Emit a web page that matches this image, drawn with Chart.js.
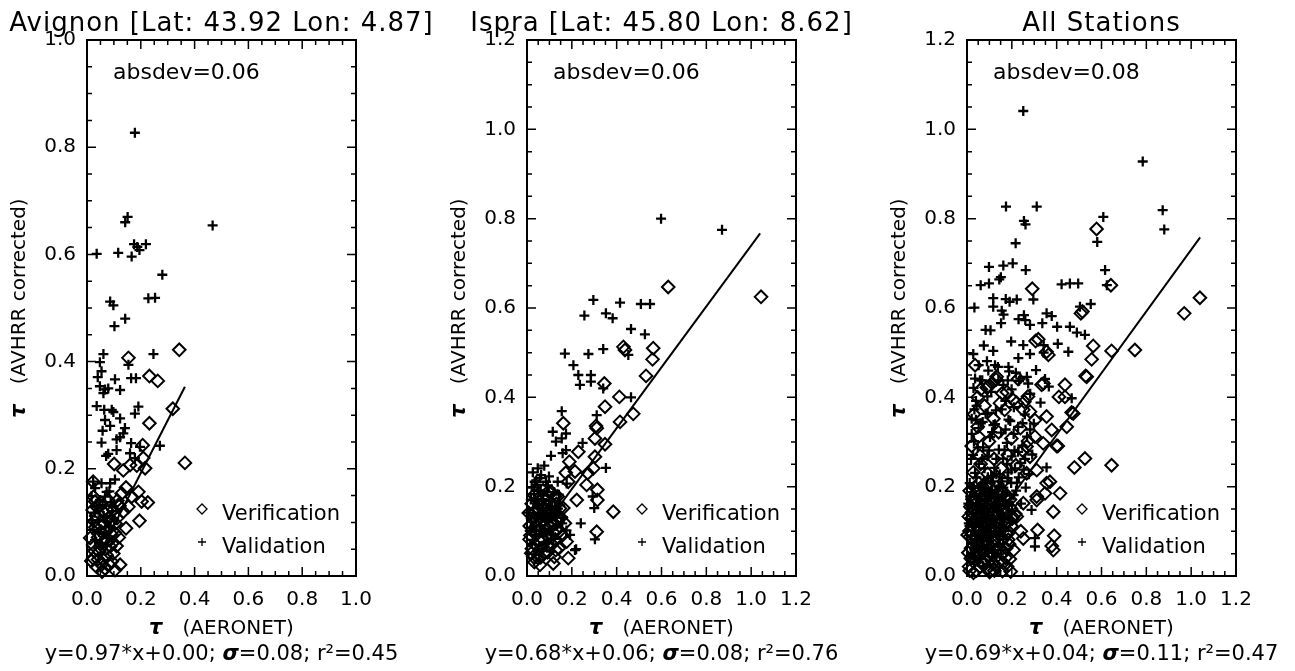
<!DOCTYPE html>
<html lang="en">
<head>
<meta charset="UTF-8">
<title>AVHRR corrected vs AERONET</title>
<script src="https://cdn.jsdelivr.net/npm/chart.js"></script>
<style>
  body { margin: 0; background: #ffffff; }
  #wrap { position: relative; width: 1295px; height: 671px; }
  #wrap canvas { position: absolute; top: 0; }
</style>
</head>
<body>
<div id="wrap">
  <canvas id="avignon" width="440" height="671" style="left:0px"></canvas>
  <canvas id="ispra" width="440" height="671" style="left:440px"></canvas>
  <canvas id="all" width="415" height="671" style="left:880px"></canvas>
</div>
<script>
// [AERONET tau, AVHRR corrected tau]
const avignonValidation = [
  [0.178,0.827],[0.467,0.654],[0.151,0.670],[0.142,0.660],[0.036,0.601],[0.116,0.603],
  [0.166,0.596],[0.175,0.619],[0.195,0.608],[0.219,0.619],[0.187,0.614],[0.280,0.562],
  [0.086,0.512],[0.098,0.505],[0.228,0.518],[0.253,0.519],[0.142,0.480],[0.102,0.466],
  [0.061,0.414],[0.048,0.399],[0.054,0.382],[0.040,0.371],[0.154,0.394],[0.247,0.414],
  [0.104,0.367],[0.164,0.369],[0.182,0.369],[0.048,0.354],[0.067,0.348],[0.079,0.350],
  [0.123,0.347],[0.061,0.341],[0.036,0.317],[0.064,0.310],[0.092,0.310],[0.098,0.306],
  [0.191,0.316],[0.178,0.303],[0.067,0.291],[0.123,0.294],[0.086,0.280],[0.058,0.271],
  [0.141,0.276],[0.135,0.266],[0.123,0.259],[0.110,0.255],[0.054,0.249],[0.164,0.248],
  [0.271,0.243],[0.197,0.241],[0.110,0.235],[0.079,0.228],[0.071,0.224],[0.160,0.229],
  [0.178,0.220],[0.104,0.180],[0.023,0.176],[0.054,0.173],[0.086,0.173],[0.030,0.164],
  [0.073,0.157],[0.017,0.149],[0.067,0.148],[0.048,0.142],[0.036,0.129],[0.021,0.086],
  [0.030,0.067],[0.062,0.112],[0.081,0.094],[0.051,0.061],[0.094,0.121],[0.043,0.104],
  [0.028,0.118],[0.045,0.082],[0.058,0.132],[0.072,0.102],[0.088,0.138],[0.101,0.106],
  [0.018,0.104],[0.066,0.078],[0.083,0.158]
];
const avignonVerification = [
  [0.343,0.422],[0.154,0.407],[0.232,0.373],[0.263,0.364],[0.319,0.312],[0.232,0.285],
  [0.207,0.244],[0.364,0.211],[0.101,0.209],[0.135,0.197],[0.160,0.207],[0.185,0.206],
  [0.216,0.201],[0.209,0.220],[0.023,0.176],[0.145,0.165],[0.191,0.157],[0.129,0.154],
  [0.166,0.148],[0.030,0.139],[0.203,0.139],[0.226,0.137],[0.054,0.136],[0.116,0.132],
  [0.154,0.129],[0.021,0.123],[0.098,0.123],[0.135,0.120],[0.067,0.117],[0.195,0.103],
  [0.083,0.108],[0.145,0.089],[0.048,0.095],[0.104,0.080],[0.023,0.058],[0.061,0.064],
  [0.086,0.055],[0.110,0.056],[0.046,0.045],[0.073,0.039],[0.023,0.033],[0.061,0.030],
  [0.092,0.027],[0.123,0.021],[0.036,0.017],[0.067,0.014],[0.104,0.011],[0.054,0.021],
  [0.041,0.072],[0.071,0.083],[0.089,0.101],[0.112,0.108],[0.058,0.121],[0.121,0.131],
  [0.031,0.091],[0.079,0.142],[0.049,0.052],[0.098,0.042],[0.029,0.046],[0.076,0.066],
  [0.012,0.071],[0.027,0.102],[0.038,0.128],[0.052,0.083],[0.064,0.098],[0.078,0.121],
  [0.091,0.078],[0.106,0.098],[0.118,0.072],[0.016,0.028],[0.041,0.031],[0.056,0.008],
  [0.083,0.021],[0.096,0.062],[0.034,0.112],[0.069,0.051],[0.113,0.141],[0.024,0.148]
];
const avignonFit = [[0.04,0.035],[0.364,0.353]];

const ispraValidation = [
  [0.598,0.800],[0.870,0.775],[0.296,0.618],[0.415,0.612],[0.508,0.609],[0.549,0.609],
  [0.256,0.583],[0.352,0.588],[0.382,0.577],[0.464,0.553],[0.526,0.541],[0.169,0.498],
  [0.274,0.497],[0.340,0.508],[0.452,0.495],[0.207,0.472],[0.229,0.450],[0.285,0.450],
  [0.236,0.428],[0.285,0.435],[0.340,0.420],[0.464,0.400],[0.155,0.369],[0.311,0.360],
  [0.115,0.323],[0.174,0.319],[0.129,0.301],[0.155,0.308],[0.248,0.298],[0.107,0.269],
  [0.159,0.275],[0.174,0.282],[0.077,0.247],[0.352,0.242],[0.058,0.219],[0.085,0.211],
  [0.137,0.211],[0.177,0.207],[0.046,0.204],[0.036,0.170],[0.293,0.178],[0.300,0.152],
  [0.240,0.118],[0.303,0.082],[0.219,0.060],[0.192,0.092],[0.214,0.058],
  [0.021,0.198],[0.032,0.183],[0.053,0.161],[0.071,0.152],[0.102,0.168],[0.121,0.188],
  [0.042,0.133],[0.083,0.122],[0.112,0.141],[0.018,0.122],[0.062,0.103],[0.091,0.094],
  [0.031,0.081],[0.052,0.062],[0.131,0.112],[0.148,0.158],[0.012,0.101],[0.041,0.214],
  [0.063,0.226],[0.098,0.223],[0.138,0.151],[0.161,0.131],[0.028,0.152],[0.072,0.181],
  [0.022,0.072],[0.081,0.071],[0.118,0.083],[0.176,0.102],[0.051,0.191],[0.093,0.203],
  [0.009,0.142],[0.024,0.108],[0.034,0.211],[0.045,0.162],[0.058,0.138],[0.067,0.172],
  [0.078,0.098],[0.088,0.188],[0.101,0.128],[0.113,0.168],[0.126,0.152],[0.142,0.182],
  [0.157,0.118],[0.017,0.171],[0.039,0.092],[0.061,0.191],[0.084,0.148],[0.107,0.082],
  [0.131,0.131],[0.026,0.232],[0.048,0.241],[0.072,0.132]
];
const ispraVerification = [
  [1.044,0.625],[0.630,0.647],[0.563,0.510],[0.560,0.485],[0.430,0.513],[0.437,0.506],
  [0.531,0.448],[0.412,0.401],[0.474,0.363],[0.415,0.345],[0.348,0.379],[0.345,0.431],
  [0.308,0.336],[0.311,0.331],[0.162,0.342],[0.303,0.308],[0.348,0.295],[0.229,0.278],
  [0.303,0.267],[0.189,0.256],[0.296,0.241],[0.173,0.231],[0.214,0.234],[0.271,0.230],
  [0.184,0.211],[0.266,0.204],[0.314,0.193],[0.222,0.170],[0.314,0.170],[0.385,0.144],
  [0.125,0.178],[0.095,0.189],[0.162,0.152],[0.140,0.129],[0.169,0.118],[0.311,0.099],
  [0.177,0.077],[0.184,0.040],[0.117,0.028],[0.058,0.025],[0.028,0.043],[0.137,0.178],
  [0.022,0.061],[0.041,0.092],[0.062,0.121],[0.081,0.148],[0.102,0.112],[0.121,0.139],
  [0.032,0.141],[0.052,0.168],[0.071,0.082],[0.092,0.053],[0.112,0.071],[0.132,0.102],
  [0.012,0.112],[0.033,0.031],[0.061,0.042],[0.151,0.131],[0.101,0.161],[0.072,0.192],
  [0.142,0.062],[0.043,0.113],[0.021,0.162],[0.088,0.131],[0.122,0.043],[0.158,0.091],
  [0.051,0.081],[0.082,0.102],[0.111,0.122],[0.131,0.161],[0.063,0.062],[0.011,0.082],
  [0.015,0.091],[0.027,0.128],[0.036,0.071],[0.047,0.152],[0.056,0.102],[0.067,0.138],
  [0.076,0.051],[0.086,0.172],[0.097,0.088],[0.106,0.142],[0.117,0.098],[0.128,0.058],
  [0.136,0.121],[0.147,0.151],[0.008,0.141],[0.031,0.181],[0.048,0.041],[0.068,0.158],
  [0.089,0.068],[0.109,0.188],[0.126,0.082],[0.019,0.051],[0.038,0.122],[0.057,0.131],
  [0.078,0.112],[0.098,0.141],[0.115,0.158],[0.141,0.098]
];
const ispraFit = [[0.01,0.065],[1.04,0.767]];

const allValidation = [
  [0.251,1.041],[0.784,0.928],[0.174,0.827],[0.311,0.827],[0.254,0.795],[0.261,0.787],
  [0.608,0.804],[0.873,0.819],[0.880,0.776],[0.581,0.748],[0.217,0.745],[0.098,0.692],
  [0.162,0.695],[0.204,0.700],[0.262,0.685],[0.616,0.685],[0.061,0.651],[0.098,0.655],
  [0.144,0.664],[0.151,0.669],[0.422,0.653],[0.459,0.655],[0.496,0.655],[0.624,0.651],
  [0.033,0.601],[0.117,0.622],[0.173,0.620],[0.222,0.619],[0.117,0.603],[0.155,0.594],
  [0.296,0.619],[0.254,0.584],[0.504,0.603],[0.552,0.609],[0.355,0.588],[0.378,0.582],
  [0.152,0.566],[0.281,0.562],[0.459,0.558],[0.190,0.614],[0.163,0.585],[0.083,0.551],
  [0.105,0.550],[0.230,0.575],[0.260,0.573],[0.402,0.558],[0.336,0.566],
  [0.526,0.540],[0.490,0.545],[0.028,0.497],[0.075,0.516],[0.117,0.504],[0.197,0.525],
  [0.251,0.517],[0.281,0.497],[0.342,0.517],[0.342,0.500],[0.405,0.520],[0.452,0.502],
  [0.125,0.472],[0.185,0.468],[0.095,0.460],[0.218,0.455],[0.232,0.437],[0.267,0.446],
  [0.273,0.431],[0.036,0.442],[0.058,0.438],[0.140,0.438],[0.182,0.438],[0.365,0.424],
  [0.467,0.398],[0.355,0.243],[0.040,0.392],[0.033,0.373],[0.092,0.365],[0.070,0.345],
  [0.040,0.350],[0.125,0.340],[0.155,0.373],[0.185,0.350],[0.288,0.148],[0.303,0.066],
  [0.303,0.085],
  [0.021,0.352],[0.052,0.331],[0.083,0.363],[0.118,0.338],[0.152,0.321],[0.193,0.347],
  [0.228,0.334],[0.268,0.312],[0.031,0.302],[0.072,0.288],[0.103,0.311],[0.142,0.283],
  [0.178,0.298],[0.212,0.281],[0.247,0.292],[0.291,0.272],[0.018,0.262],[0.053,0.251],
  [0.091,0.268],[0.122,0.242],[0.161,0.263],[0.198,0.238],[0.238,0.253],[0.276,0.228],
  [0.042,0.221],[0.073,0.208],[0.108,0.224],[0.148,0.202],[0.181,0.219],[0.223,0.209],
  [0.262,0.198],[0.022,0.188],[0.061,0.178],[0.088,0.171],[0.131,0.192],[0.171,0.168],
  [0.208,0.181],[0.241,0.162],[0.011,0.152],[0.041,0.138],[0.079,0.151],[0.112,0.131],
  [0.151,0.142],[0.188,0.128],[0.031,0.112],[0.062,0.098],[0.098,0.108],[0.132,0.092],
  [0.168,0.101],[0.019,0.072],[0.051,0.061],[0.088,0.069],[0.121,0.052],[0.152,0.058],
  [0.032,0.031],[0.071,0.022],[0.101,0.034],[0.128,0.013],[0.043,0.381],[0.091,0.402],
  [0.129,0.371],[0.171,0.392],[0.209,0.378],[0.258,0.362],[0.298,0.341],[0.029,0.421],
  [0.068,0.438],[0.108,0.412],[0.162,0.428],[0.199,0.418],[0.238,0.442],[0.282,0.408],
  [0.328,0.388],[0.052,0.472],[0.089,0.481],[0.138,0.468],[0.188,0.458],[0.229,0.488],
  [0.308,0.461],[0.348,0.441],
  [0.012,0.208],[0.024,0.162],[0.036,0.231],[0.048,0.121],[0.057,0.198],[0.066,0.142],
  [0.078,0.241],[0.087,0.092],[0.094,0.188],[0.103,0.152],[0.116,0.212],[0.127,0.118],
  [0.139,0.168],[0.146,0.228],[0.158,0.181],[0.167,0.131],[0.179,0.251],[0.186,0.162],
  [0.197,0.208],[0.214,0.241],[0.008,0.118],[0.018,0.091],[0.029,0.141],[0.042,0.082],
  [0.053,0.172],[0.061,0.118],[0.073,0.131],[0.082,0.208],[0.097,0.132],[0.109,0.178],
  [0.119,0.098],[0.131,0.228],[0.143,0.108],[0.156,0.212],[0.172,0.188],[0.184,0.232],
  [0.201,0.158],[0.219,0.191],[0.231,0.221],[0.253,0.238],[0.016,0.042],[0.038,0.058],
  [0.059,0.038],[0.078,0.048],[0.096,0.061],[0.112,0.042],[0.138,0.072],[0.161,0.082],
  [0.027,0.271],[0.048,0.288],[0.068,0.262],[0.098,0.281],[0.131,0.262],[0.168,0.282],
  [0.199,0.268],[0.228,0.278],[0.259,0.262],[0.021,0.318],[0.062,0.342],[0.112,0.322],
  [0.172,0.328],[0.208,0.318],[0.248,0.342],[0.282,0.328],
  [0.014,0.178],[0.027,0.198],[0.033,0.102],[0.046,0.152],[0.052,0.088],[0.064,0.182],
  [0.071,0.111],[0.079,0.168],[0.086,0.128],[0.093,0.221],[0.104,0.118],[0.111,0.192],
  [0.122,0.162],[0.134,0.142],[0.141,0.198],[0.153,0.128],[0.006,0.162],[0.022,0.128],
  [0.039,0.178],[0.058,0.158],[0.068,0.078],[0.083,0.188],[0.091,0.152],[0.099,0.078],
  [0.114,0.152],[0.124,0.181],[0.148,0.158],[0.162,0.198],[0.031,0.062],[0.048,0.032]
];
const allVerification = [
  [0.578,0.777],[0.291,0.643],[0.642,0.651],[0.508,0.588],[0.515,0.592],[0.969,0.588],
  [1.039,0.623],[0.318,0.530],[0.749,0.506],[0.645,0.504],[0.563,0.515],[0.556,0.485],
  [0.529,0.448],[0.437,0.428],[0.410,0.401],[0.467,0.366],[0.405,0.291],[0.479,0.243],
  [0.526,0.263],[0.645,0.248],[0.370,0.211],[0.415,0.185],[0.385,0.144],[0.315,0.103],
  [0.389,0.090],[0.378,0.067],[0.385,0.058],[0.306,0.526],[0.363,0.495],[0.036,0.472],
  [0.132,0.446],[0.095,0.424],[0.157,0.409],[0.256,0.390],[0.341,0.431],[0.048,0.334],
  [0.303,0.312],[0.340,0.297],[0.058,0.269],[0.281,0.267],[0.311,0.237],[0.348,0.185],
  [0.311,0.170],[0.216,0.139],[0.251,0.084],[0.088,0.422],[0.130,0.440],[0.147,0.387],
  [0.206,0.394],[0.251,0.372],[0.303,0.349],[0.355,0.357],[0.378,0.327],[0.400,0.291],
  [0.445,0.334],[0.333,0.428],[0.437,0.401],[0.355,0.502],[0.534,0.446],[0.474,0.364],
  [0.047,0.400],[0.266,0.290],[0.266,0.230],[0.311,0.178],[0.355,0.208],[0.251,0.163],
  [0.222,0.133],[0.240,0.100],[0.184,0.081],[0.162,0.030],[0.195,0.010],[0.205,0.132],
  [0.012,0.191],[0.041,0.172],[0.068,0.201],[0.102,0.182],[0.131,0.212],[0.161,0.188],
  [0.192,0.171],[0.022,0.142],[0.051,0.131],[0.082,0.152],[0.111,0.138],[0.142,0.121],
  [0.172,0.143],[0.201,0.128],[0.011,0.101],[0.038,0.088],[0.072,0.112],[0.098,0.091],
  [0.128,0.102],[0.161,0.082],[0.188,0.098],[0.018,0.062],[0.052,0.048],[0.081,0.071],
  [0.112,0.052],[0.141,0.061],[0.172,0.041],[0.208,0.058],[0.009,0.021],[0.042,0.012],
  [0.068,0.031],[0.101,0.009],[0.132,0.022],[0.158,0.011],[0.028,0.232],[0.061,0.251],
  [0.092,0.229],[0.121,0.262],[0.152,0.241],[0.182,0.271],[0.218,0.248],[0.248,0.281],
  [0.021,0.291],[0.052,0.312],[0.098,0.301],[0.141,0.322],[0.198,0.308],[0.238,0.331],
  [0.272,0.302],[0.031,0.362],[0.078,0.381],[0.118,0.352],[0.168,0.372],[0.221,0.388],
  [0.281,0.368],[0.062,0.418],[0.112,0.432],[0.178,0.412],[0.228,0.441],[0.272,0.402],
  [0.015,0.155],[0.028,0.118],[0.035,0.198],[0.047,0.071],[0.056,0.152],[0.063,0.094],
  [0.075,0.182],[0.084,0.038],[0.091,0.127],[0.096,0.208],[0.104,0.066],[0.117,0.163],
  [0.124,0.083],[0.137,0.141],[0.145,0.032],[0.153,0.103],[0.166,0.176],[0.174,0.062],
  [0.183,0.122],[0.196,0.151],[0.006,0.052],[0.019,0.128],[0.026,0.082],[0.033,0.047],
  [0.044,0.113],[0.058,0.021],[0.066,0.138],[0.078,0.092],[0.087,0.162],[0.094,0.071],
  [0.107,0.121],[0.114,0.028],[0.126,0.173],[0.134,0.058],[0.147,0.092],[0.156,0.148],
  [0.169,0.118],[0.179,0.021],[0.188,0.071],[0.008,0.133],[0.024,0.172],[0.039,0.141],
  [0.054,0.101],[0.069,0.061],[0.081,0.122],[0.093,0.018],[0.109,0.097],[0.121,0.142],
  [0.139,0.112],[0.149,0.168],[0.162,0.052],[0.176,0.097],[0.191,0.038],[0.013,0.088],
  [0.029,0.007],[0.049,0.188],[0.064,0.172],[0.086,0.201],[0.099,0.148],[0.118,0.191],
  [0.142,0.188],[0.164,0.212],
  [0.021,0.112],[0.037,0.162],[0.043,0.058],[0.061,0.118],[0.071,0.148],[0.077,0.028],
  [0.089,0.098],[0.103,0.132],[0.116,0.078],[0.129,0.121],[0.136,0.088],[0.151,0.118],
  [0.168,0.148],[0.003,0.092],[0.017,0.039],[0.031,0.171],[0.052,0.208],[0.073,0.052],
  [0.108,0.172],[0.122,0.012],[0.143,0.152],[0.182,0.178],[0.198,0.112],[0.012,0.012]
];
const allFit = [[0.01,0.047],[1.04,0.758]];

const panelTitles = ['Avignon [Lat: 43.92 Lon: 4.87]', 'Ispra [Lat: 45.80 Lon: 8.62]', 'All Stations'];
const absdevLabels = ['absdev=0.06', 'absdev=0.06', 'absdev=0.08'];
const fitLabels = ['y=0.97*x+0.00;', 'y=0.68*x+0.06;', 'y=0.69*x+0.04;'];
const sigmaLabels = ['=0.08;', '=0.08;', '=0.11;'];
const r2Labels = ['0.45', '0.76', '0.47'];
const axisMax = [1.0, 1.2, 1.2];
const majorStep = 0.2;
const minorStep = 0.05;

const FONT = 'DejaVu Sans';
Chart.defaults.font.family = FONT;
Chart.defaults.color = '#000';

function toXY(pairs) {
  return pairs.map(p => ({ x: p[0], y: p[1] }));
}

// box, inward ticks, titles and the small legend
const decorPlugin = {
  id: 'decor',
  afterDraw(chart, args, o) {
    const ctx = chart.ctx;
    const a = chart.chartArea;
    const xs = chart.scales.x, ys = chart.scales.y;
    const cx = (a.left + a.right) / 2;
    const cy = (a.top + a.bottom) / 2;
    ctx.save();
    ctx.strokeStyle = '#000';
    ctx.fillStyle = '#000';
    ctx.lineWidth = 2;
    ctx.strokeRect(a.left, a.top, a.right - a.left, a.bottom - a.top);

    ctx.lineWidth = 1.5;
    ctx.beginPath();
    const n = Math.round(o.max / minorStep);
    const per = Math.round(majorStep / minorStep);
    for (let i = 1; i < n; i++) {
      const v = i * minorStep;
      const len = i % per === 0 ? 9 : 5;
      const px = xs.getPixelForValue(v), py = ys.getPixelForValue(v);
      ctx.moveTo(px, a.bottom); ctx.lineTo(px, a.bottom - len);
      ctx.moveTo(px, a.top); ctx.lineTo(px, a.top + len);
      ctx.moveTo(a.left, py); ctx.lineTo(a.left + len, py);
      ctx.moveTo(a.right, py); ctx.lineTo(a.right - len, py);
    }
    ctx.stroke();

    // title
    ctx.textBaseline = 'alphabetic';
    ctx.textAlign = 'center';
    ctx.font = '26px ' + FONT;
    ctx.letterSpacing = '1px';
    ctx.fillText(o.title, cx, 31);
    ctx.letterSpacing = '0px';

    // absdev
    ctx.textAlign = 'left';
    ctx.font = '22px ' + FONT;
    ctx.fillText(o.absdev, a.left + 26, a.top + 39);

    // legend
    const lx = a.left + 115;
    ctx.lineWidth = 1.3;
    ctx.beginPath();
    const d = 5, dy = a.bottom - 67;
    ctx.moveTo(lx - d, dy); ctx.lineTo(lx, dy - d); ctx.lineTo(lx + d, dy); ctx.lineTo(lx, dy + d); ctx.closePath();
    ctx.stroke();
    ctx.beginPath();
    const py2 = a.bottom - 34;
    ctx.moveTo(lx - 4, py2); ctx.lineTo(lx + 4, py2);
    ctx.moveTo(lx, py2 - 4); ctx.lineTo(lx, py2 + 4);
    ctx.stroke();
    ctx.font = '21px ' + FONT;
    ctx.fillText('Verification', a.left + 135, a.bottom - 56);
    ctx.fillText('Validation', a.left + 135, a.bottom - 23);

    // x axis title
    const tauFont = 'italic bold 21px ' + FONT;
    const plainFont = '20px ' + FONT;
    ctx.font = tauFont;
    const wt = ctx.measureText('\u03c4').width;
    ctx.font = plainFont;
    const wa = ctx.measureText('(AERONET)').width;
    const gap = 20;
    let x0 = cx - (wt + gap + wa) / 2;
    ctx.font = tauFont;
    ctx.fillText('\u03c4', x0, a.bottom + 58);
    ctx.font = plainFont;
    ctx.fillText('(AERONET)', x0 + wt + gap, a.bottom + 58);

    // fit equation
    const eqFont = '21px ' + FONT;
    const sigFont = 'italic bold 21px ' + FONT;
    ctx.font = eqFont;
    const p1 = o.fit + ' ', p3 = o.sigma + ' r\u00b2=' + o.r2;
    const w1 = ctx.measureText(p1).width, w3 = ctx.measureText(p3).width;
    ctx.font = sigFont;
    const w2 = ctx.measureText('\u03c3').width;
    let ex = cx - (w1 + w2 + w3) / 2;
    const ey = a.bottom + 84;
    ctx.font = eqFont;
    ctx.fillText(p1, ex, ey);
    ctx.font = sigFont;
    ctx.fillText('\u03c3', ex + w1, ey);
    ctx.font = eqFont;
    ctx.fillText(p3, ex + w1 + w2, ey);

    // y axis title (rotated)
    ctx.translate(a.left - 62, cy);
    ctx.rotate(-Math.PI / 2);
    ctx.font = plainFont;
    const wv = ctx.measureText('(AVHRR corrected)').width;
    let y0 = -(wt + gap + wv) / 2;
    ctx.font = tauFont;
    ctx.fillText('\u03c4', y0, 0);
    ctx.font = plainFont;
    ctx.fillText('(AVHRR corrected)', y0 + wt + gap, 0);
    ctx.restore();
  }
};

function makePanel(id, idx, verification, validation, fit) {
  const max = axisMax[idx];
  return new Chart(document.getElementById(id), {
    type: 'scatter',
    data: {
      datasets: [
        {
          label: 'Verification',
          data: toXY(verification),
          pointStyle: 'rectRot',
          pointRadius: 6.3,
          borderWidth: 2,
          borderColor: '#000',
          backgroundColor: 'rgba(0,0,0,0)',
          clip: false
        },
        {
          label: 'Validation',
          data: toXY(validation),
          pointStyle: 'cross',
          pointRadius: 5,
          borderWidth: 2.3,
          borderColor: '#000',
          clip: false
        },
        {
          type: 'line',
          label: 'fit',
          data: toXY(fit),
          borderColor: '#000',
          borderWidth: 2,
          pointRadius: 0,
          fill: false
        }
      ]
    },
    options: {
      responsive: false,
      animation: false,
      devicePixelRatio: 1,
      events: [],
      layout: { padding: { top: 40, left: 0, bottom: 0, right: id === 'all' ? 59 : 84 } },
      plugins: {
        legend: { display: false },
        tooltip: { enabled: false },
        decor: {
          max: max,
          title: panelTitles[idx],
          absdev: absdevLabels[idx],
          fit: fitLabels[idx],
          sigma: sigmaLabels[idx],
          r2: r2Labels[idx]
        }
      },
      scales: {
        x: {
          type: 'linear',
          min: 0, max: max,
          grid: { display: false, drawTicks: false },
          border: { display: false },
          ticks: {
            stepSize: majorStep,
            padding: 12,
            maxRotation: 0,
            autoSkip: false,
            font: { size: 20 },
            callback: v => v.toFixed(1)
          },
          afterFit: s => { s.height = 95; }
        },
        y: {
          type: 'linear',
          min: 0, max: max,
          grid: { display: false, drawTicks: false },
          border: { display: false },
          ticks: {
            stepSize: majorStep,
            padding: 11,
            autoSkip: false,
            font: { size: 20 },
            callback: v => v.toFixed(1)
          },
          afterFit: s => { s.width = 87; }
        }
      }
    },
    plugins: [decorPlugin]
  });
}

makePanel('avignon', 0, avignonVerification, avignonValidation, avignonFit);
makePanel('ispra', 1, ispraVerification, ispraValidation, ispraFit);
makePanel('all', 2, allVerification, allValidation, allFit);
</script>
</body>
</html>
